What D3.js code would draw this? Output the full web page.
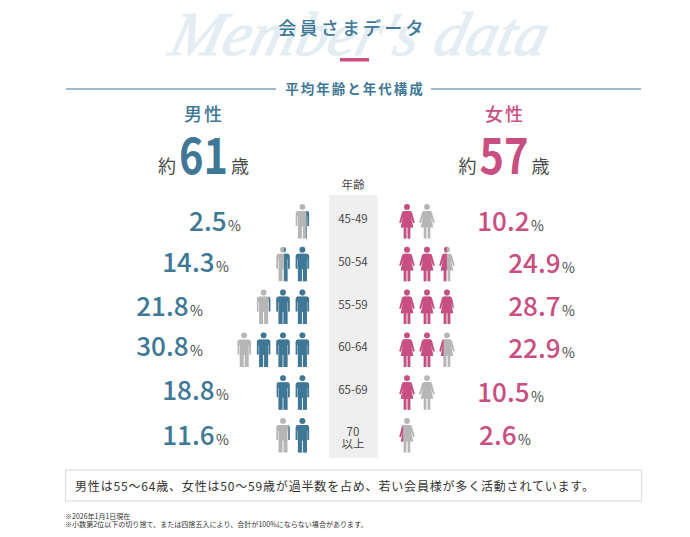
<!DOCTYPE html>
<html lang="ja">
<head>
<meta charset="utf-8">
<title>会員さまデータ</title>
<script src="https://cdn.jsdelivr.net/npm/d3@7/dist/d3.min.js"></script>
<style>
  html, body { margin: 0; padding: 0; background: #fff; }
  svg { display: block; }
  text { font-family: "Noto Sans CJK JP", "Noto Sans", sans-serif; }
</style>
</head>
<body>
<svg id="chart" width="690" height="537"></svg>
<script>
// Member data by age band
const ageGroups = ["45-49", "50-54", "55-59", "60-64", "65-69", "70以上"];
const maleShare = [2.5, 14.3, 21.8, 30.8, 18.8, 11.6];
const femaleShare = [10.2, 24.9, 28.7, 22.9, 10.5, 2.6];
const averageAges = { male: 61, female: 57 };

const BLUE = "#3f7896", PINK = "#c94f83", GRAY = "#b6b6b6", INK = "#4a4a4a";
const PER_ICON = 10; // one figure stands for 10 %

// Figure glyphs, centred on x = 0 with the top of the head at y = 0
const maleBody = "M-4.2 7H4.2Q6.7 7 6.7 9.5V22H5V12.5H4.5V34.5H0.5V22.5H-0.5V34.5H-4.5V12.5H-5V22H-6.7V9.5Q-6.7 7-4.2 7Z";
const femaleBody = "M-2.8 6.9H2.8Q4.5 6.9 5 8.6L7.7 18.6L6.2 19.3L3.8 12.6L6.3 23.6H3.3V34.5H0.6V23.6H-0.6V34.5H-3.3V23.6H-6.3L-3.8 12.6L-6.2 19.3L-7.7 18.6L-5 8.6Q-4.5 6.9-2.8 6.9Z";

const svg = d3.select("#chart");
const defs = svg.append("defs");

// Row and figure placement
const rowY = d3.scalePoint().domain(ageGroups).range([204, 418]);
const maleX = d3.scaleLinear().domain([0, 3]).range([302.4, 244.2]);
const femaleX = d3.scaleLinear().domain([0, 2]).range([407, 447]);
const rowCenter = d => rowY(d) + 15;

// Value labels sit just beyond the figures: the right edge depends on how many are drawn
const maleLabelRight = { 1: 241, 2: 229, 3: 203, 4: 203 };
const femaleLabelRight = { 1: 531, 2: 544, 3: 575 };
const maleBaseline = [231, 272, 316, 356, 400, 445];
const femaleBaseline = [231, 273, 316, 358, 402, 445];

// Header
svg.append("text")
  .attr("transform", "translate(355 55) skewX(-14)")
  .attr("text-anchor", "middle").attr("fill", "#e3edf3")
  .attr("stroke", "#e3edf3").attr("stroke-width", 1.2)
  .attr("textLength", 376).attr("lengthAdjust", "spacingAndGlyphs")
  .style("font-family", '"Liberation Serif", serif').style("font-style", "italic")
  .style("font-size", "62px")
  .text("Member's data");

svg.append("text").attr("x", 352.5).attr("y", 34.5).attr("text-anchor", "middle")
  .attr("fill", BLUE).style("font-size", "18px").style("font-weight", 500).style("letter-spacing", "3.2px")
  .text("会員さまデータ");

svg.append("rect").attr("x", 340).attr("y", 58).attr("width", 29).attr("height", 3.5).attr("fill", PINK);

svg.selectAll(".rule").data([[66, 276], [431, 641]]).join("line")
  .attr("x1", d => d[0]).attr("x2", d => d[1]).attr("y1", 89).attr("y2", 89)
  .attr("stroke", "#7da5b9").attr("stroke-width", 1.6);

svg.append("text").attr("x", 355).attr("y", 94).attr("text-anchor", "middle")
  .attr("fill", BLUE).style("font-size", "13.5px").style("font-weight", 700).style("letter-spacing", "2px")
  .text("平均年齢と年代構成");

// Gender headings with the average age
function heading(cx, title, age, color, left) {
  svg.append("text").attr("x", cx).attr("y", 121).attr("text-anchor", "middle")
    .attr("fill", color).style("font-size", "18px").style("font-weight", 500).style("letter-spacing", "2px")
    .text(title);
  svg.append("text").attr("x", left).attr("y", 173).attr("fill", INK).style("font-size", "18px").text("約");
  svg.append("text").attr("x", left + 21).attr("y", 174).attr("fill", color)
    .attr("textLength", 49).attr("lengthAdjust", "spacingAndGlyphs")
    .style("font-size", "49px").style("font-weight", 700).text(age);
  svg.append("text").attr("x", left + 73).attr("y", 173).attr("fill", INK).style("font-size", "18px").text("歳");
}
heading(204, "男性", averageAges.male, BLUE, 158);
heading(505, "女性", averageAges.female, PINK, 458.5);

// Centre column of age bands
svg.append("text").attr("x", 353).attr("y", 189).attr("text-anchor", "middle")
  .attr("fill", INK).style("font-size", "11.5px").text("年齢");
svg.append("rect").attr("x", 329).attr("y", 195).attr("width", 48.5).attr("height", 263).attr("fill", "#efefef");

ageGroups.forEach(group => {
  const label = svg.append("text").attr("text-anchor", "middle").attr("fill", INK).style("font-size", "11.5px");
  if (group === "70以上") {
    label.append("tspan").attr("x", 353).attr("y", rowCenter(group) + 3).text("70");
    label.append("tspan").attr("x", 353).attr("y", rowCenter(group) + 15).text("以上");
  } else {
    label.attr("x", 353).attr("y", rowCenter(group) + 4).text(group);
  }
});

// One row of figures; each is gray with the share painted over it through a clip
const fillWidth = d3.scaleLinear().domain([0, PER_ICON]).range([0, 16]).clamp(true);

function drawSide(key, shares, xScale, body, color, fromRight, labelRight, baseline) {
  shares.forEach((share, row) => {
    const group = ageGroups[row];
    const count = Math.ceil(share / PER_ICON);
    d3.range(count).forEach(i => {
      const w = fillWidth(share - i * PER_ICON);
      const id = `clip-${key}-${row}-${i}`;
      defs.append("clipPath").attr("id", id).append("rect")
        .attr("x", fromRight ? 8 - w : -8).attr("y", -1).attr("width", w).attr("height", 37);
      const g = svg.append("g").attr("transform", `translate(${xScale(i)},${rowY(group)})`);
      [[GRAY, null], [color, `url(#${id})`]].forEach(([paint, clip]) => {
        const layer = g.append("g").attr("fill", paint).attr("clip-path", clip);
        layer.append("circle").attr("cy", 2.9).attr("r", 2.9);
        layer.append("path").attr("d", body);
      });
    });

    const right = labelRight[count];
    svg.append("text").attr("x", right).attr("y", baseline[row]).attr("text-anchor", "end")
      .attr("fill", INK).style("font-size", "14px").text("%");
    svg.append("text").attr("x", right - 14.5).attr("y", baseline[row]).attr("text-anchor", "end")
      .attr("fill", color).style("font-size", "26px").style("font-weight", 500)
      .text(share.toFixed(1));
  });
}

drawSide("m", maleShare, maleX, maleBody, BLUE, true, maleLabelRight, maleBaseline);
drawSide("f", femaleShare, femaleX, femaleBody, PINK, false, femaleLabelRight, femaleBaseline);

// Summary box and notes
svg.append("rect").attr("x", 65.5).attr("y", 470).attr("width", 576).attr("height", 31)
  .attr("fill", "#fff").attr("stroke", "#dcdcdc").attr("stroke-width", 1.2);
svg.append("text").attr("x", 75).attr("y", 491).attr("fill", "#333")
  .style("font-size", "12px").style("letter-spacing", "0.82px")
  .text("男性は55～64歳、女性は50～59歳が過半数を占め、若い会員様が多く活動されています。");
svg.append("text").attr("x", 65).attr("y", 519).attr("fill", "#333").style("font-size", "7px")
  .text("※2026年1月1日現在");
svg.append("text").attr("x", 65).attr("y", 527).attr("fill", "#333").style("font-size", "7.05px")
  .text("※小数第2位以下の切り捨て、または四捨五入により、合計が100%にならない場合があります。");
</script>
</body>
</html>
